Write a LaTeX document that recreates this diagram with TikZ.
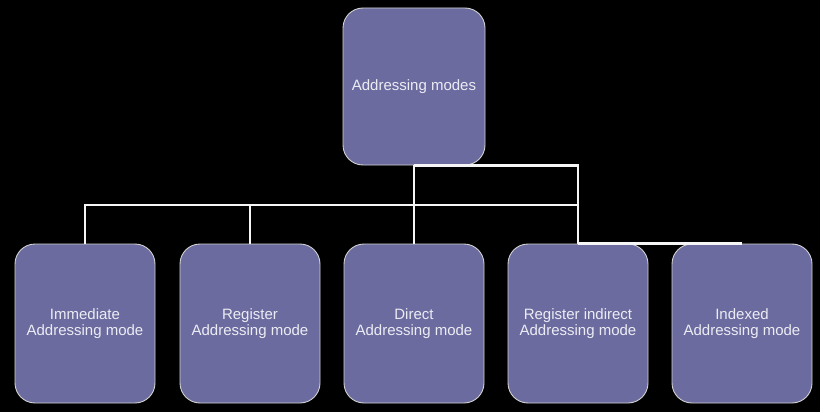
\documentclass[tikz,border=0pt]{standalone}
\usepackage{fontspec}
\setmainfont{Liberation Sans}
\usepackage{xcolor}
\usepackage{tikz}
\usetikzlibrary{positioning}
\definecolor{mpurple}{HTML}{6B6B9F}
\definecolor{mtext}{HTML}{ECECF4}

\begin{document}
\begin{tikzpicture}[x=1pt,y={(0pt,-1pt)},
  modebox/.style={draw=gray!35,line width=0.9pt,rounded corners=20pt,fill=mpurple,
    text=mtext,align=center,minimum width=140pt,minimum height=159pt,inner sep=2pt,
    font=\fontsize{15}{16.5}\selectfont},
  link/.style={draw=white!92!gray,line width=2.2pt}]
  \fill[black] (0,0) rectangle (820,412);
  \useasboundingbox (0,0) rectangle (820,412);
  % root and the five modes
  \node[modebox,minimum width=142pt,minimum height=157pt] (modes) at (414,86.5) {Addressing modes};
  \node[modebox] (imm) at (85,323.5) {Immediate\\Addressing mode};
  \node[modebox] (reg) at (250,323.5) {Register\\Addressing mode};
  \node[modebox] (dir) at (414,323.5) {Direct\\Addressing mode};
  \node[modebox] (regind) at (578,323.5) {Register indirect\\Addressing mode};
  \node[modebox] (idx) at (742,323.5) {Indexed\\Addressing mode};
  \coordinate (bus) at (414,205);
  % tree lines
  \draw[link] (modes.south) -- (dir.north);
  \draw[link] (modes.south) -| (regind.north);
  \draw[link] (imm.north) |- (bus);
  \draw[link] (reg.north) -- (reg.north |- bus);
  \draw[link] (bus) -- (regind.north |- bus);
  \draw[link] (regind.north) -- (idx.north);
\end{tikzpicture}
\end{document}
